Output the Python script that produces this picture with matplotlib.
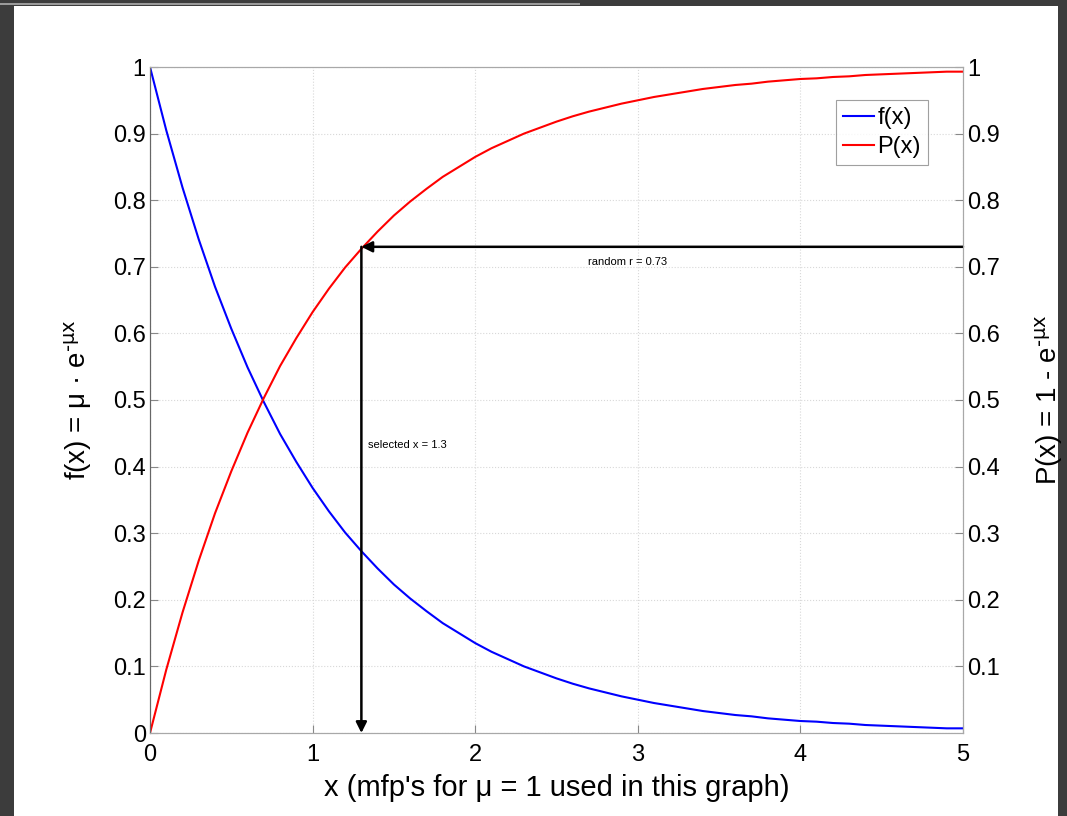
import matplotlib.pyplot as plt
from matplotlib.patches import Rectangle

plt.rcParams['font.family'] = ['Liberation Sans', 'DejaVu Sans']
plt.rcParams['mathtext.default'] = 'regular'

# sample points
x_pts = [0.0, 0.1, 0.2, 0.3, 0.4, 0.5, 0.6, 0.7, 0.8, 0.9,
         1.0, 1.1, 1.2, 1.3, 1.4, 1.5, 1.6, 1.7, 1.8, 1.9,
         2.0, 2.1, 2.2, 2.3, 2.4, 2.5, 2.6, 2.7, 2.8, 2.9,
         3.0, 3.1, 3.2, 3.3, 3.4, 3.5, 3.6, 3.7, 3.8, 3.9,
         4.0, 4.1, 4.2, 4.3, 4.4, 4.5, 4.6, 4.7, 4.8, 4.9, 5.0]
f_vals = [1.000, 0.905, 0.819, 0.741, 0.670, 0.607, 0.549, 0.497, 0.449, 0.407,
          0.368, 0.333, 0.301, 0.273, 0.247, 0.223, 0.202, 0.183, 0.165, 0.150,
          0.135, 0.122, 0.111, 0.100, 0.091, 0.082, 0.074, 0.067, 0.061, 0.055,
          0.050, 0.045, 0.041, 0.037, 0.033, 0.030, 0.027, 0.025, 0.022, 0.020,
          0.018, 0.017, 0.015, 0.014, 0.012, 0.011, 0.010, 0.009, 0.008, 0.007, 0.007]
p_vals = [0.000, 0.095, 0.181, 0.259, 0.330, 0.393, 0.451, 0.503, 0.551, 0.593,
          0.632, 0.667, 0.699, 0.727, 0.753, 0.777, 0.798, 0.817, 0.835, 0.850,
          0.865, 0.878, 0.889, 0.900, 0.909, 0.918, 0.926, 0.933, 0.939, 0.945,
          0.950, 0.955, 0.959, 0.963, 0.967, 0.970, 0.973, 0.975, 0.978, 0.980,
          0.982, 0.983, 0.985, 0.986, 0.988, 0.989, 0.990, 0.991, 0.992, 0.993, 0.993]

r_val = 0.73
x_sel = 1.3
x_ticks = [0, 1, 2, 3, 4, 5]
y_ticks = [0, 0.1, 0.2, 0.3, 0.4, 0.5, 0.6, 0.7, 0.8, 0.9, 1]
y2_ticks = [0.1, 0.2, 0.3, 0.4, 0.5, 0.6, 0.7, 0.8, 0.9, 1]

W, H = 1067, 816
fig = plt.figure(figsize=(W / 100, H / 100), dpi=100, facecolor='#3c3c3c')
# slide background: white page on dark border
fig.patches.append(Rectangle((14 / W, 0), (1058 - 14) / W, 1 - 6 / H,
                             transform=fig.transFigure, facecolor='white',
                             edgecolor='none', zorder=-2))
fig.patches.append(Rectangle((0, 1 - 5 / H), 580 / W, 2 / H,
                             transform=fig.transFigure, facecolor='#9a9a9a',
                             edgecolor='none', zorder=-2))

ax = fig.add_axes([150 / W, 1 - 733 / H, (963 - 150) / W, (733 - 67) / H])
ax.set_facecolor('white')

l1, = ax.plot(x_pts, f_vals, color='blue', lw=1.5, label='f(x)')
l2, = ax.plot(x_pts, p_vals, color='red', lw=1.5, label='P(x)')

ax.set_xlim(0, 5)
ax.set_ylim(0, 1)
ax.set_xticks(x_ticks)
ax.set_yticks(y_ticks)
ax.set_yticklabels(['0', '0.1', '0.2', '0.3', '0.4', '0.5', '0.6', '0.7', '0.8', '0.9', '1'])
ax.grid(True, color='#d8d8d8', linestyle=':', linewidth=0.8)
ax.tick_params(direction='in', length=6, labelsize=17, color='#888888')
ax.tick_params(axis='x', pad=8)
ax.tick_params(axis='y', pad=3)

for s in ['top', 'right', 'bottom']:
    ax.spines[s].set_color('#a8a8a8')
ax.spines['left'].set_color('#666666')

ax2 = ax.twinx()
ax2.set_ylim(0, 1)
ax2.set_yticks(y2_ticks)
ax2.set_yticklabels(['0.1', '0.2', '0.3', '0.4', '0.5', '0.6', '0.7', '0.8', '0.9', '1'])
ax2.tick_params(direction='in', length=6, labelsize=17, color='#888888', pad=3)
for s in ['top', 'right', 'bottom', 'left']:
    ax2.spines[s].set_color('#a8a8a8')
ax2.spines['left'].set_color('#666666')

# arrows: random r -> curve -> selected x
ax.annotate('', xy=(x_sel, r_val), xytext=(5, r_val),
            arrowprops=dict(arrowstyle='-|>', color='black', lw=1.8,
                            shrinkA=0, shrinkB=0, mutation_scale=16))
ax.annotate('', xy=(x_sel, 0), xytext=(x_sel, r_val),
            arrowprops=dict(arrowstyle='-|>', color='black', lw=1.8,
                            shrinkA=0, shrinkB=0, mutation_scale=16))
ax.text(2.94, 0.707, 'random r = 0.73', fontsize=8, ha='center', va='center')
ax.text(1.34, 0.432, 'selected x = 1.3', fontsize=8, ha='left', va='center')

ax.set_xlabel("x (mfp's for \u03bc = 1 used in this graph)", fontsize=21, labelpad=6)
ax.set_ylabel('f(x) = \u03bc \u00b7 e$^{\\text{-\u03bcx}}$', fontsize=20, labelpad=14)
ax2.set_ylabel('P(x) = 1 - e$^{\\text{-\u03bcx}}$', fontsize=20, rotation=90, labelpad=24)

leg = ax2.legend([l1, l2], ['f(x)', 'P(x)'], loc='upper right',
                 bbox_to_anchor=(928 / W, 1 - 100 / H), bbox_transform=fig.transFigure,
                 fontsize=17, frameon=True, fancybox=False, edgecolor='#888888',
                 handlelength=1.3, handletextpad=0.15, borderpad=0.3,
                 labelspacing=0.3, borderaxespad=0)
leg.get_frame().set_linewidth(0.8)

fig.savefig('out.png', dpi=100, facecolor=fig.get_facecolor())
